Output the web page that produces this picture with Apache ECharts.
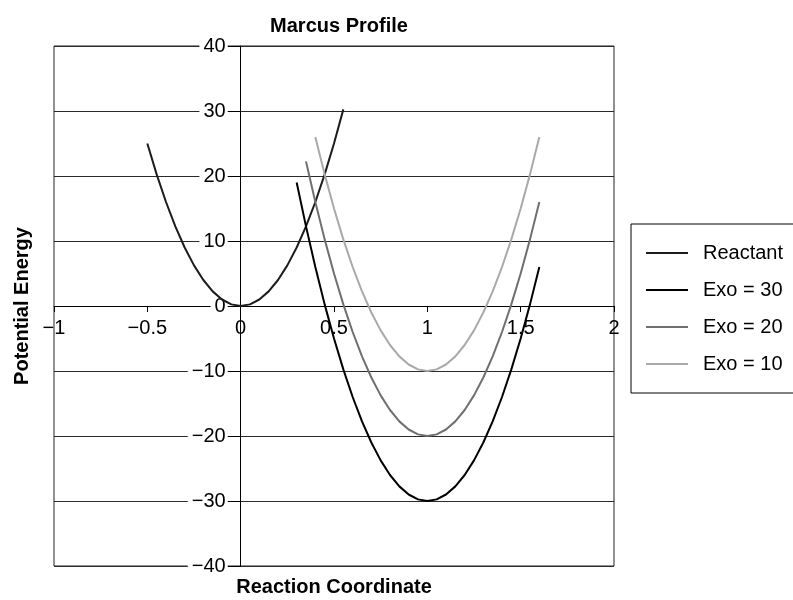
<!DOCTYPE html>
<html>
<head>
<meta charset="utf-8">
<script src="https://cdn.jsdelivr.net/npm/echarts@6/dist/echarts.min.js"></script>
<style>
html,body{margin:0;padding:0;background:#fff;}
#chart{width:793px;height:600px;}
</style>
</head>
<body>
<div id="chart"></div>
<script>
// ---- Data ----
var reactantX = [-0.5,-0.45,-0.4,-0.35,-0.3,-0.25,-0.2,-0.15,-0.1,-0.05,0,0.05,0.1,0.15,0.2,0.25,0.3,0.35,0.4,0.45,0.5,0.55];
var reactantY = [25,20.25,16,12.25,9,6.25,4,2.25,1,0.25,0,0.25,1,2.25,4,6.25,9,12.25,16,20.25,25,30.25];

var exo30X = [0.3,0.35,0.4,0.45,0.5,0.55,0.6,0.65,0.7,0.75,0.8,0.85,0.9,0.95,1,1.05,1.1,1.15,1.2,1.25,1.3,1.35,1.4,1.45,1.5,1.55,1.6];
var exo30Y = [19,12.25,6,0.25,-5,-9.75,-14,-17.75,-21,-23.75,-26,-27.75,-29,-29.75,-30,-29.75,-29,-27.75,-26,-23.75,-21,-17.75,-14,-9.75,-5,0.25,6];

var exo20X = [0.35,0.4,0.45,0.5,0.55,0.6,0.65,0.7,0.75,0.8,0.85,0.9,0.95,1,1.05,1.1,1.15,1.2,1.25,1.3,1.35,1.4,1.45,1.5,1.55,1.6];
var exo20Y = [22.25,16,10.25,5,0.25,-4,-7.75,-11,-13.75,-16,-17.75,-19,-19.75,-20,-19.75,-19,-17.75,-16,-13.75,-11,-7.75,-4,0.25,5,10.25,16];

var exo10X = [0.4,0.45,0.5,0.55,0.6,0.65,0.7,0.75,0.8,0.85,0.9,0.95,1,1.05,1.1,1.15,1.2,1.25,1.3,1.35,1.4,1.45,1.5,1.55,1.6];
var exo10Y = [26,20.25,15,10.25,6,2.25,-1,-3.75,-6,-7.75,-9,-9.75,-10,-9.75,-9,-7.75,-6,-3.75,-1,2.25,6,10.25,15,20.25,26];

var seriesNames = ['Reactant','Exo = 30','Exo = 20','Exo = 10'];
var xTicks = [-1,-0.5,0,0.5,1,1.5,2];
var yTicks = [-40,-30,-20,-10,0,10,20,30,40];

function zip(xs, ys){ return xs.map(function(x,i){ return [x, ys[i]]; }); }
function fmt(v){ return (v < 0 ? '\u2212' + Math.abs(v) : String(v)); }

var FONT = '"Liberation Sans", Arial, Helvetica, sans-serif';
var chart = echarts.init(document.getElementById('chart'), null, {renderer:'canvas'});
var colors = ['#1c1c1c','#000000','#6f6f6f','#a9a9a9'];

// grid geometry
var gLeft = 54, gRight = 614, gTop = 46, gBottom = 566;
var xMin = xTicks[0], xMax = xTicks[xTicks.length-1];
var yMin = yTicks[0], yMax = yTicks[yTicks.length-1];
// move axes so they cross at (0,0)
var yAxisOffset = -((0 - xMin) / (xMax - xMin)) * (gRight - gLeft);
var xAxisOffset = -((0 - yMin) / (yMax - yMin)) * (gBottom - gTop);

chart.setOption({
  animation:false,
  backgroundColor:'#ffffff',
  title:{
    text:'Marcus Profile', left:334, top:11, textAlign:'center',
    textStyle:{fontFamily:FONT, fontSize:20, fontWeight:'bold', color:'#000'}
  },
  legend:{
    left:631, top:224,
    orient:'vertical',
    data:seriesNames,
    icon:'rect', itemWidth:42, itemHeight:2, itemGap:17,
    padding:[19,30,19,15],
    borderColor:'#000', borderWidth:1,
    textStyle:{fontFamily:FONT, fontSize:20, color:'#000', padding:[0,0,0,10]}
  },
  grid:{
    left:gLeft, right:793-gRight, top:gTop, bottom:600-gBottom,
    containLabel:false, outerBoundsMode:'none',
    show:true, borderColor:'#222', borderWidth:1, backgroundColor:'transparent'
  },
  xAxis:{
    type:'value', min:xMin, max:xMax, interval:0.5,
    position:'bottom', offset:xAxisOffset,
    name:'Reaction Coordinate', nameLocation:'middle', nameGap:271,
    nameTextStyle:{fontFamily:FONT, fontSize:20, fontWeight:'bold', color:'#000'},
    axisLine:{show:true, onZero:false, lineStyle:{color:'#000', width:1}},
    axisTick:{show:true, length:6, inside:false, lineStyle:{color:'#000'}},
    axisLabel:{fontFamily:FONT, fontSize:20, color:'#000', margin:12, formatter:fmt},
    splitLine:{show:false}
  },
  yAxis:{
    type:'value', min:yMin, max:yMax, interval:10,
    position:'left', offset:yAxisOffset,
    name:'Potential Energy', nameLocation:'middle', nameGap:208,
    nameTextStyle:{fontFamily:FONT, fontSize:20, fontWeight:'bold', color:'#000'},
    axisLine:{show:true, onZero:false, lineStyle:{color:'#000', width:1}},
    axisTick:{show:true, length:13, inside:false, lineStyle:{color:'#000'}},
    axisLabel:{fontFamily:FONT, fontSize:20, color:'#000', margin:13, formatter:fmt,
      backgroundColor:'#fff', padding:[0,2,0,4]},
    splitLine:{show:true, lineStyle:{color:'#2a2a2a', width:1}}
  },
  series:[
    {name:seriesNames[0], type:'line', data:zip(reactantX,reactantY), showSymbol:false, symbol:'none',
     lineStyle:{color:colors[0], width:2}, itemStyle:{color:colors[0]}},
    {name:seriesNames[1], type:'line', data:zip(exo30X,exo30Y), showSymbol:false, symbol:'none',
     lineStyle:{color:colors[1], width:2}, itemStyle:{color:colors[1]}},
    {name:seriesNames[2], type:'line', data:zip(exo20X,exo20Y), showSymbol:false, symbol:'none',
     lineStyle:{color:colors[2], width:2}, itemStyle:{color:colors[2]}},
    {name:seriesNames[3], type:'line', data:zip(exo10X,exo10Y), showSymbol:false, symbol:'none',
     lineStyle:{color:colors[3], width:2}, itemStyle:{color:colors[3]}}
  ]
});
</script>
</body>
</html>
